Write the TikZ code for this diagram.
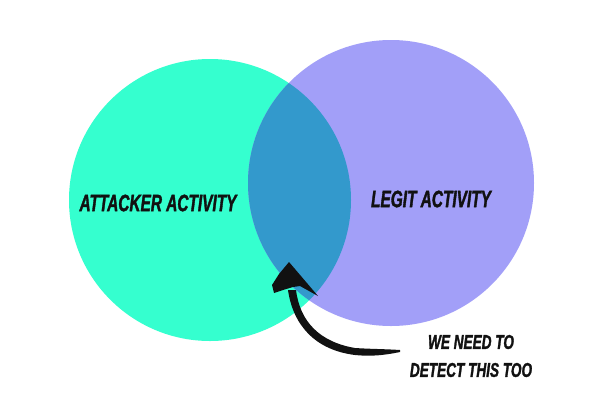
\documentclass[tikz,border=0pt]{standalone}
\usepackage{fontspec}
\newfontfamily\brushfont[FakeStretch=0.65,FakeBold=1.4]{Liberation Sans}
\newfontfamily\notefont[FakeStretch=0.68,FakeBold=1.4]{Liberation Sans}
\definecolor{teal}{HTML}{35FFCF}
\definecolor{lav}{HTML}{A29FF8}
\definecolor{mid}{HTML}{3399CC}
\definecolor{ink}{HTML}{111111}
\tikzset{
  lbl/.style={inner sep=0pt, text=ink, font=\brushfont\bfseries\itshape\fontsize{23.7}{28}\selectfont},
  note/.style={inner sep=0pt, text=ink, align=center, font=\notefont\bfseries\itshape\fontsize{20}{28}\selectfont},
}
\begin{document}
\begin{tikzpicture}[x=1pt,y=-1pt]
\useasboundingbox (0,0) rectangle (600,400);
\fill[white] (0,0) rectangle (600,400);
% circles
\fill[teal] (210,200) circle (141);
\fill[lav] (391,183) circle (143);
\begin{scope}
  \clip (210,200) circle (141);
  \fill[mid] (391,183) circle (143);
\end{scope}
% labels
\node[lbl] (att) at (158,203) {ATTACKER ACTIVITY};
\node[lbl] (leg) at (431,199) {LEGIT ACTIVITY};
\node[note] (note) at (471,356) {WE NEED TO\\DETECT THIS TOO};
% brush arrow
\coordinate (tip) at (289,262);
\coordinate (tail) at (400,352);
\fill[ink] (288,290) .. controls (293,325) and (315,350) .. (355,355)
  .. controls (375,357) and (390,354) .. (tail)
  -- (400,350) .. controls (385,349) and (370,349) .. (355,348)
  .. controls (320,342) and (300,322) .. (296,290) -- cycle;
\fill[ink] (tip) -- (318,296) -- (300,286) -- (293,287) -- (283,290)
  -- (274,293) -- (272,285) -- (279,274) -- cycle;
\end{tikzpicture}
\end{document}
